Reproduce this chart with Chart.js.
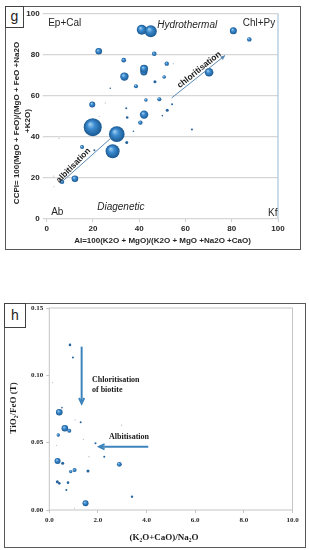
<!DOCTYPE html>
<html><head><meta charset="utf-8">
<script src="https://cdn.jsdelivr.net/npm/chart.js@4/dist/chart.umd.min.js"></script>
<style>
html,body{margin:0;padding:0;background:#fff;width:309px;height:550px;overflow:hidden;position:relative}
.frame{position:absolute;border:1.5px solid #595959;box-sizing:border-box}
.tag{position:absolute;border:1px solid #404040;box-sizing:border-box;font-family:Arial,"Liberation Sans",sans-serif;font-size:14px;color:#222;text-align:center;background:#fff}
canvas{position:absolute;left:0}
</style></head><body>
<div class="frame" style="left:5px;top:6px;width:296px;height:244px"></div>
<div class="frame" style="left:4px;top:303px;width:302px;height:245px"></div>
<canvas id="cg" width="309" height="252" style="top:0"></canvas>
<canvas id="ch" width="309" height="250" style="top:300px"></canvas>
<div class="tag" style="left:5px;top:6px;width:19px;height:22px;line-height:19px">g</div>
<div class="tag" style="left:4px;top:303px;width:22px;height:25px;line-height:23px">h</div>
<script>
// ---------- Chart g data ----------
const gX = [41.1,45.0,80.7,87.6,22.5,46.5,33.3,51.9,42.0,42.1,33.6,70.2,46.8,50.8,38.6,27.5,19.7,42.9,48.7,54.2,34.4,52.1,34.8,42.1,50.0,40.5,19.9,30.3,37.5,62.8,25.3,5.3,15.3,28.5,34.6,6.6,12.2,3.2,20.6,54.7,22.7,3.0];
const gY = [92.1,91.4,91.6,87.4,81.6,80.4,77.3,75.6,71.6,73.1,69.3,71.4,66.8,69.1,64.6,63.6,55.7,57.9,58.3,55.8,53.9,52.9,49.4,50.8,50.3,46.9,44.7,41.3,42.7,43.5,56.5,39.2,35.0,33.0,37.2,18.1,19.6,15.7,33.5,75.6,50.0,20.9];
const gSize = [5,6,3.5,2.2,3.3,2.3,2.3,2.2,3.6,4,4.2,4.3,1.5,1.8,2,0.8,3,1.7,2,1,1,1.5,1.3,4.2,0.8,2.2,9,7.8,0.8,1,0.6,0.6,2,7,1.5,2.3,3.3,0.6,1,0.6,0.6,0.6];
const gXTicks = [0,20,40,60,80,100];
const gYTicks = [0,20,40,60,80,100];
const gAlbitisation = [[6.6,18.1],[28.1,39.7]];
const gChloritisation = [[54.0,58.9],[77.1,79.6]];

// ---------- Chart h data ----------
const hX = [0.85,0.97,0.14,0.41,0.52,0.64,0.82,1.29,1.06,0.37,1.90,1.40,0.30,2.26,1.63,0.34,0.55,2.88,1.04,0.88,1.59,0.33,0.41,0.77,0.70,3.40,1.49,1.04,2.97];
const hY = [0.1226,0.1132,0.0946,0.0726,0.0760,0.0607,0.0589,0.0651,0.0669,0.0557,0.0495,0.0525,0.0480,0.0396,0.0396,0.0364,0.0347,0.0339,0.0297,0.0285,0.0290,0.0210,0.0198,0.0203,0.0149,0.0099,0.0050,0.0013,0.0630];
const hSize = [1.3,1,0.6,3.3,0.8,3.3,2,1,0.6,1.7,1,0.6,0.6,1,0.7,3,1.5,2.4,2,1.7,1.5,1.5,1.3,1.3,1,1.2,3,0.6,0.6];
const hXTicks = [0,2,4,6,8,10];
const hYTicks = [0,0.05,0.10,0.15];
const hChloritisation = [[1.33,0.1213],[1.33,0.0792]];
const hAlbitisation = [[4.07,0.047],[2.05,0.047]];

const SANS = 'Arial, "Liberation Sans", sans-serif';
const SERIF = '"Times New Roman", "Liberation Serif", serif';

function bubbleFill(c) {
  const raw = c.raw;
  if (!raw || !c.chart.chartArea) return '#2e75b6';
  const r = raw.r;
  if (r < 0.75) return 'rgba(150,165,185,0.75)';
  if (r < 1.6) return '#27649c';
  const px = c.chart.scales.x.getPixelForValue(raw.x);
  const py = c.chart.scales.y.getPixelForValue(raw.y);
  const g = c.chart.ctx.createRadialGradient(px - r*0.3, py - r*0.35, r*0.05, px, py, r);
  g.addColorStop(0, '#9ccbf0');
  g.addColorStop(0.4, '#3b8bd0');
  g.addColorStop(1, '#1a5890');
  return g;
}

function pts(xs, ys, ss) { return xs.map((x,i) => ({x, y: ys[i], r: ss[i]})); }

function arrow(ctx, x1, y1, x2, y2, color, w, head, filled) {
  ctx.save();
  ctx.strokeStyle = color; ctx.fillStyle = color; ctx.lineWidth = w;
  ctx.beginPath(); ctx.moveTo(x1, y1); ctx.lineTo(x2, y2); ctx.stroke();
  if (head > 0) {
    const a = Math.atan2(y2 - y1, x2 - x1);
    const ax = x2 - head*Math.cos(a - 0.45), ay = y2 - head*Math.sin(a - 0.45);
    const bx = x2 - head*Math.cos(a + 0.45), by = y2 - head*Math.sin(a + 0.45);
    ctx.beginPath();
    ctx.moveTo(ax, ay); ctx.lineTo(x2, y2); ctx.lineTo(bx, by);
    if (filled) { ctx.closePath(); ctx.fill(); } else { ctx.stroke(); }
  }
  ctx.restore();
}

function textAlong(ctx, txt, p1, p2, off, font) {
  const ang = Math.atan2(p2[1]-p1[1], p2[0]-p1[0]);
  const mx = (p1[0]+p2[0])/2, my = (p1[1]+p2[1])/2;
  ctx.save();
  ctx.translate(mx + off*Math.sin(ang), my - off*Math.cos(ang));
  ctx.rotate(ang);
  ctx.font = font; ctx.fillStyle = '#1a1a1a';
  ctx.textAlign = 'center'; ctx.textBaseline = 'middle';
  ctx.fillText(txt, 0, 0);
  ctx.restore();
}

// ---------------- Chart g ----------------
const gPlugin = {
  id: 'gDeco',
  afterDatasetsDraw(chart) {
    const ctx = chart.ctx, a = chart.chartArea, xs = chart.scales.x, ys = chart.scales.y;
    // right border
    ctx.save();
    ctx.strokeStyle = '#a9c6da'; ctx.lineWidth = 1.2;
    ctx.beginPath(); ctx.moveTo(a.right, a.top); ctx.lineTo(a.right, a.bottom); ctx.stroke();
    ctx.restore();
    const P = p => [xs.getPixelForValue(p[0]), ys.getPixelForValue(p[1])];
    const a1 = P(gAlbitisation[0]), a2 = P(gAlbitisation[1]);
    arrow(ctx, a1[0], a1[1], a2[0], a2[1], '#5b88b0', 1, 0, false);
    textAlong(ctx, 'albitisation', [a1[0]+4, a1[1]], [a2[0]-22, a2[1]+20], 6, 'bold 8.5px ' + SANS);
    const c1 = P(gChloritisation[0]), c2 = P(gChloritisation[1]);
    arrow(ctx, c1[0], c1[1], c2[0], c2[1], '#5b88b0', 1, 5, true);
    textAlong(ctx, 'chloritisation', [c1[0]+8, c1[1]-6], [c2[0], c2[1]], 5, 'bold 8.5px ' + SANS);
    // zone labels
    ctx.save();
    ctx.fillStyle = '#262626'; ctx.textBaseline = 'middle'; ctx.textAlign = 'left';
    ctx.font = '10px ' + SANS;
    ctx.fillText('Ep+Cal', a.left + 1.5, a.top + 9.5);
    ctx.fillText('Chl+Py', a.left + 196, a.top + 9.5);
    ctx.fillText('Ab', a.left + 4.5, a.bottom - 7);
    ctx.fillText('Kf', a.right - 10, a.bottom - 6);
    ctx.font = 'italic 10px ' + SANS;
    ctx.fillText('Hydrothermal', a.left + 110.5, a.top + 12);
    ctx.fillText('Diagenetic', a.left + 50.5, a.bottom - 12);
    // axis titles
    ctx.font = 'bold 8px ' + SANS;
    ctx.textAlign = 'center';
    ctx.fillText('AI=100(K2O + MgO)/(K2O + MgO +Na2O +CaO)', 162.5, 240.5);
    ctx.save();
    ctx.translate(17, 123); ctx.rotate(-Math.PI/2);
    ctx.fillText('CCPI= 100(MgO + FeO)/(MgO + FeO +Na2O', 0, 0);
    ctx.restore();
    ctx.save();
    ctx.translate(28, 121); ctx.rotate(-Math.PI/2);
    ctx.fillText('+K2O)', 0, 0);
    ctx.restore();
    ctx.restore();
  }
};

new Chart(document.getElementById('cg'), {
  type: 'bubble',
  data: { datasets: [{ data: pts(gX, gY, gSize), backgroundColor: bubbleFill, borderWidth: 0, hoverRadius: 0 }] },
  options: {
    responsive: false, animation: false, events: [],
    layout: { padding: { left: 0, right: 31, top: 13.5, bottom: 0 } },
    plugins: { legend: { display: false }, tooltip: { enabled: false } },
    scales: {
      x: {
        type: 'linear', min: 0, max: 100,
        afterBuildTicks: s => { s.ticks = gXTicks.map(v => ({ value: v })); },
        afterFit: s => { s.height = 33; },
        grid: { display: true, drawOnChartArea: false, drawTicks: true, tickLength: 3, color: '#cfcfcf' },
        border: { display: false },
        ticks: { font: { family: SANS, size: 8, weight: 'bold' }, color: '#262626', padding: 2, maxRotation: 0 }
      },
      y: {
        type: 'linear', min: 0, max: 100,
        afterBuildTicks: s => { s.ticks = gYTicks.map(v => ({ value: v })); },
        afterFit: s => { s.width = 46.7; },
        grid: { color: '#d6d6d6', lineWidth: 1.3, tickLength: 4 },
        border: { display: false },
        ticks: { font: { family: SANS, size: 8, weight: 'bold' }, color: '#262626', padding: 3 }
      }
    }
  },
  plugins: [gPlugin]
});

// ---------------- Chart h ----------------
const hPlugin = {
  id: 'hDeco',
  afterDatasetsDraw(chart) {
    const ctx = chart.ctx, a = chart.chartArea, xs = chart.scales.x, ys = chart.scales.y;
    ctx.save();
    ctx.strokeStyle = '#c4c4c4'; ctx.lineWidth = 1;
    ctx.strokeRect(a.left, a.top, a.right - a.left, a.bottom - a.top);
    ctx.restore();
    const P = p => [xs.getPixelForValue(p[0]), ys.getPixelForValue(p[1])];
    const c1 = P(hChloritisation[0]), c2 = P(hChloritisation[1]);
    arrow(ctx, c1[0], c1[1], c2[0], c2[1], '#3c84bb', 2, 6, false);
    const b1 = P(hAlbitisation[0]), b2 = P(hAlbitisation[1]);
    arrow(ctx, b1[0], b1[1], b2[0], b2[1], '#3c84bb', 2, 6, false);
    ctx.save();
    ctx.fillStyle = '#1a1a1a'; ctx.textBaseline = 'middle'; ctx.textAlign = 'left';
    ctx.font = 'bold 8px ' + SERIF;
    ctx.fillText('Chloritisation', 92, 80);
    ctx.fillText('of biotite', 92, 89.5);
    ctx.fillText('Albitisation', 109, 137);
    ctx.textAlign = 'center';
    ctx.font = 'bold 9px ' + SERIF;
    ctx.fillText('(K\u2082O+CaO)/Na\u2082O', 164, 238);
    ctx.translate(14, 108); ctx.rotate(-Math.PI/2);
    ctx.fillText('TiO\u2082/FeO (T)', 0, 0);
    ctx.restore();
  }
};

new Chart(document.getElementById('ch'), {
  type: 'bubble',
  data: { datasets: [{ data: pts(hX, hY, hSize), backgroundColor: bubbleFill, borderWidth: 0, hoverRadius: 0 }] },
  options: {
    responsive: false, animation: false, events: [],
    layout: { padding: { left: 0, right: 16.5, top: 8, bottom: 0 } },
    plugins: { legend: { display: false }, tooltip: { enabled: false } },
    scales: {
      x: {
        type: 'linear', min: 0, max: 10,
        afterBuildTicks: s => { s.ticks = hXTicks.map(v => ({ value: v })); },
        afterFit: s => { s.height = 40; },
        grid: { display: true, drawOnChartArea: false, drawTicks: true, tickLength: 3, color: '#c4c4c4' },
        border: { display: false },
        ticks: { font: { family: SERIF, size: 7, weight: 'bold' }, color: '#262626', padding: 3, maxRotation: 0,
                 callback: v => Number(v).toFixed(1) }
      },
      y: {
        type: 'linear', min: 0, max: 0.15,
        afterBuildTicks: s => { s.ticks = hYTicks.map(v => ({ value: v })); },
        afterFit: s => { s.width = 49.3; },
        grid: { display: true, drawOnChartArea: false, drawTicks: true, tickLength: 3, color: '#c4c4c4' },
        border: { display: false },
        ticks: { font: { family: SERIF, size: 7, weight: 'bold' }, color: '#262626', padding: 3,
                 callback: v => Number(v).toFixed(2) }
      }
    }
  },
  plugins: [hPlugin]
});
</script>
</body></html>
